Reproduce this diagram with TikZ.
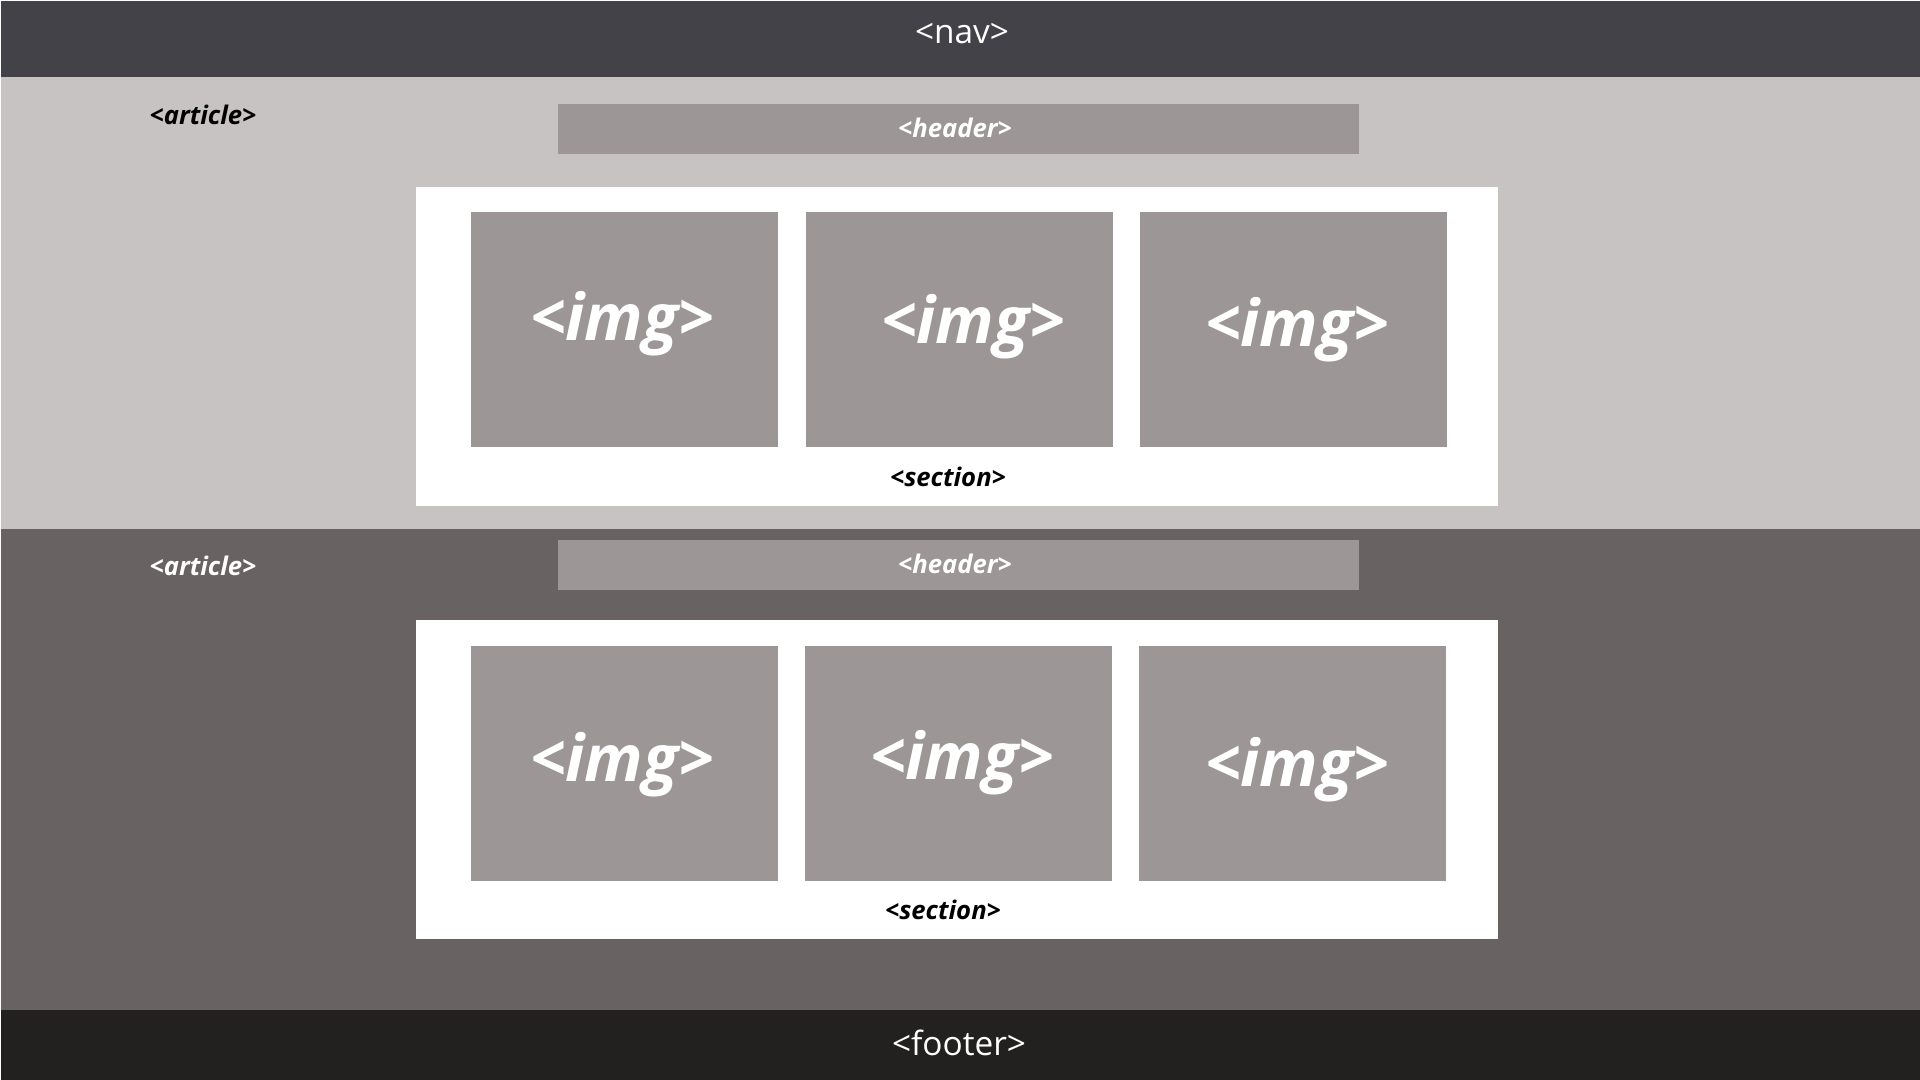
\documentclass[tikz,border=0pt]{standalone}
\usepackage{fontspec}
\setmainfont{Open Sans}
\usetikzlibrary{positioning}
\definecolor{navgray}{HTML}{424248}
\definecolor{artlight}{HTML}{C8C3C3}
\definecolor{artdark}{HTML}{686262}
\definecolor{footgray}{HTML}{222120}
\definecolor{boxgray}{HTML}{9C9696}

\begin{document}
\begin{tikzpicture}[
  band/.style={inner sep=0pt,minimum width=19.2cm,anchor=north west},
  tagbar/.style={fill=boxgray,inner sep=0pt,minimum width=8.01cm,minimum height=0.5cm},
  sectbox/.style={fill=white,inner sep=0pt,minimum width=10.82cm,minimum height=3.19cm},
  imgbox/.style={fill=boxgray,inner sep=0pt,minimum width=3.07cm,minimum height=2.35cm},
  bigtag/.style={text=white,font=\fontsize{9.5}{11}\selectfont,inner sep=0pt},
  smalltag/.style={font=\fontsize{7.3}{9}\selectfont\bfseries\itshape,inner sep=0pt},
  imgtag/.style={text=white,font=\fontsize{18.4}{21}\selectfont\bfseries\itshape,inner sep=0pt}
]
\useasboundingbox (0,0) rectangle (19.2,10.8);
% page bands
\node[band,fill=navgray,minimum height=0.76cm] (nav) at (0,10.8) {};
\node[band,fill=artlight,minimum height=4.52cm] (art1) at (0,10.04) {};
\node[band,fill=artdark,minimum height=4.81cm] (art2) at (0,5.52) {};
\node[band,fill=footgray,minimum height=0.71cm] (foot) at (0,0.71) {};
\node[bigtag] (navtxt) at (9.62,10.46) {<nav>};
\node[bigtag] (foottxt) at (9.59,0.37) {<footer>};
% first article
\node[smalltag,text=black] (art1txt) at (2.03,9.65) {<article>};
\node[tagbar] (hd1) at (9.585,9.51) {};
\node[smalltag,text=white] (hd1txt) at (9.55,9.52) {<header>};
\node[sectbox] (sec1) at (9.57,7.335) {};
\node[imgbox] (im11) at (6.245,7.505) {};
\node[imgbox] (im12) at (9.595,7.505) {};
\node[imgbox] (im13) at (12.935,7.505) {};
\node[imgtag] at (6.22,7.56) {<img>};
\node[imgtag] at (9.73,7.53) {<img>};
\node[imgtag] at (12.97,7.50) {<img>};
\node[smalltag,text=black] (sec1txt) at (9.48,6.03) {<section>};
% second article
\node[smalltag,text=white] (art2txt) at (2.03,5.14) {<article>};
\node[tagbar] (hd2) at (9.585,5.15) {};
\node[smalltag,text=white] (hd2txt) at (9.55,5.16) {<header>};
\node[sectbox] (sec2) at (9.57,3.00) {};
\node[imgbox] (im21) at (6.245,3.165) {};
\node[imgbox] (im22) at (9.585,3.165) {};
\node[imgbox] (im23) at (12.925,3.165) {};
\node[imgtag] at (6.22,3.15) {<img>};
\node[imgtag] at (9.62,3.17) {<img>};
\node[imgtag] at (12.97,3.10) {<img>};
\node[smalltag,text=black] (sec2txt) at (9.43,1.70) {<section>};
\end{tikzpicture}
\end{document}
